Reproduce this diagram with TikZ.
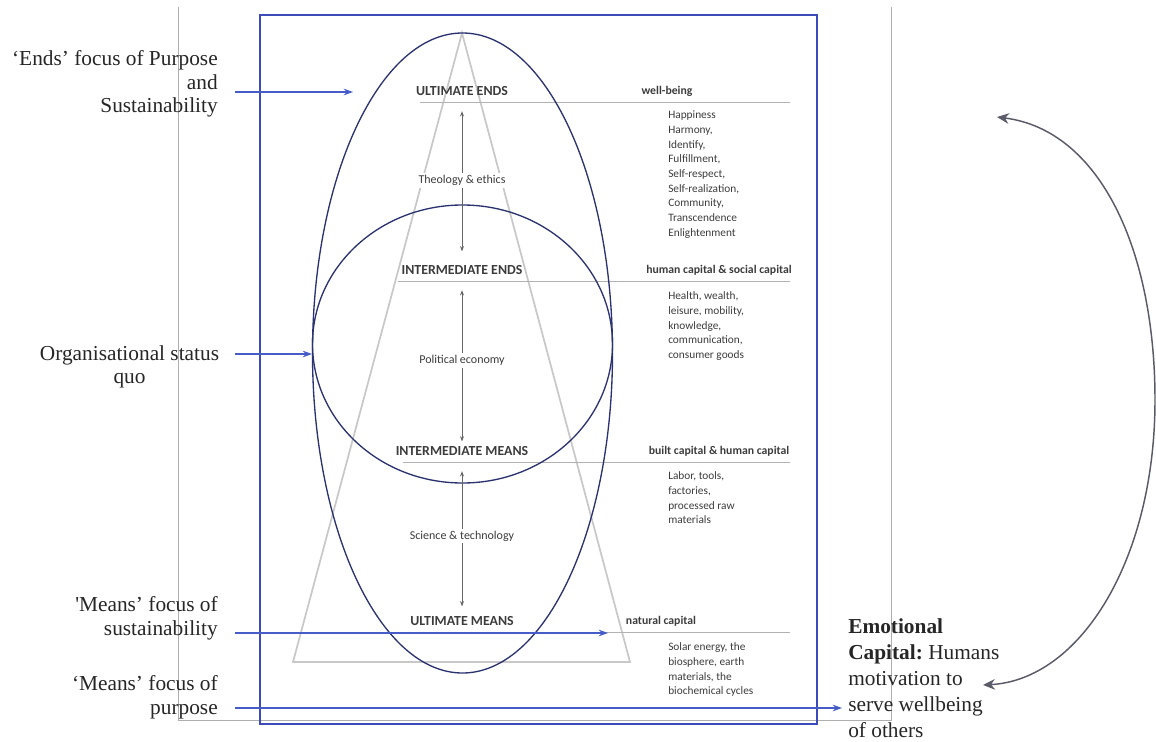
\documentclass[tikz,border=0pt]{standalone}
\usepackage{fontspec}
\setmainfont{Liberation Serif}
\newfontfamily\diagfont{Carlito}
\usetikzlibrary{arrows.meta}
\definecolor{navy}{RGB}{43,50,112}
\definecolor{boxblue}{RGB}{60,75,185}
\definecolor{arrblue}{RGB}{70,92,200}
\definecolor{trigray}{RGB}{200,200,200}
\definecolor{pagegray}{RGB}{175,175,175}
\definecolor{dtext}{RGB}{60,60,60}
\definecolor{curvegray}{RGB}{90,90,105}
\begin{document}
\begin{tikzpicture}[x=0.75pt,y=-0.75pt,
  leftlabel/.style={font=\fontsize{16}{17.6}\selectfont, inner sep=0, text=black!85, align=right, anchor=north east},
  capslabel/.style={font=\diagfont\bfseries\fontsize{10.4}{12}\selectfont, text=dtext, inner sep=0},
  headlabel/.style={font=\diagfont\bfseries\fontsize{8.8}{11}\selectfont, text=dtext, inner sep=0},
  midlabel/.style={font=\diagfont\fontsize{9}{11}\selectfont, text=dtext, fill=white, inner sep=1.5pt},
  listtext/.style={font=\diagfont\fontsize{8.5}{11}\selectfont, text=dtext, inner sep=0, align=left, anchor=north west},
  vert/.style={draw=black!60, line width=0.6pt, {Stealth[length=4pt,width=3pt]}-{Stealth[length=4pt,width=3pt]}, shorten <=11.5pt},
  bluearrow/.style={draw=arrblue, line width=1pt, -{Stealth[length=7pt,width=5pt]}},
  sepline/.style={draw=black!30, line width=0.6pt},
  curvearrow/.style={draw=curvegray, line width=1.1pt, {Stealth[length=9pt,width=8pt]}-{Stealth[length=9pt,width=8pt]}}
]
\useasboundingbox (0,0) rectangle (1156,742);

% page outline and frame
\draw[pagegray, line width=0.6pt] (178,7) -- (178,720) -- (891,720) -- (891,7);
\draw[boxblue, line width=1.1pt] (260,15) rectangle (817,724);

% pyramid
\draw[trigray, line width=1.3pt] (462,33) -- (293,662) -- (630,662) -- cycle;

% separator lines
\draw[sepline] (420,102) -- (790,102);
\draw[sepline] (398,281) -- (790,281);
\draw[sepline] (403,462) -- (790,462);
\draw[sepline] (405,632) -- (790,632);

% ellipses
\draw[navy, line width=1pt] (462.5,353) ellipse [x radius=112.5pt, y radius=240pt];
\draw[navy, line width=1pt] (462.5,344) ellipse [x radius=112.5pt, y radius=104.25pt];

% level labels
\node[capslabel] (ue) at (462,91) {ULTIMATE ENDS};
\node[capslabel] (ie) at (462,270) {INTERMEDIATE ENDS};
\node[capslabel] (im) at (462,451) {INTERMEDIATE MEANS};
\node[capslabel] (um) at (462,621) {ULTIMATE MEANS};

\node[headlabel] (wb) at (667,91) {well-being};
\node[headlabel] (hc) at (719,270) {human capital \& social capital};
\node[headlabel] (bc) at (719,451) {built capital \& human capital};
\node[headlabel] (nc) at (661,621) {natural capital};

\node[listtext] (l1) at (668,110.7) {Happiness\\Harmony,\\Identify,\\Fulfillment,\\Self-respect,\\Self-realization,\\Community,\\Transcendence\\Enlightenment};
\node[listtext] (l2) at (668,291.7) {Health, wealth,\\leisure, mobility,\\knowledge,\\communication,\\consumer goods};
\node[listtext] (l3) at (668,471.7) {Labor, tools,\\factories,\\processed raw\\materials};
\node[listtext] (l4) at (668,642.7) {Solar energy, the\\biosphere, earth\\materials, the\\biochemical cycles};

% vertical arrows
\draw[vert, shorten >=10.3pt] (ue.south) -- (ie.north) node[midlabel, midway] (te) {Theology \& ethics};
\draw[vert, shorten >=3.5pt] (ie.south) -- (im.north) node[midlabel, midway] (pe) {Political economy};
\draw[vert, shorten >=7.3pt] (im.south) -- (um.north) node[midlabel, midway] (st) {Science \& technology};

% left labels
\node[leftlabel] (endsL) at (218,50.4) {‘Ends’ focus of Purpose\\and\\Sustainability};
\node[font=\fontsize{16}{17.3}\selectfont, inner sep=0, text=black!85, align=center, anchor=north] (sqL) at (129.5,345.5) {Organisational status\\quo};
\node[leftlabel] (msL) at (218,596.5) {\textquotesingle Means’ focus of\\sustainability};
\node[leftlabel] (mpL) at (218,675.5) {‘Means’ focus of\\purpose};

% right label
\node[anchor=north west, align=left, font=\fontsize{16}{19.5}\selectfont\frenchspacing, inner sep=0, text=black!85] (emo) at (848,618) {\textbf{Emotional}\\\textbf{Capital:}\ Humans\\motivation to\\serve wellbeing\\of others};

% blue arrows
\coordinate (a1s) at (235,92);  \coordinate (a1e) at (353,92);
\coordinate (a2s) at (235,354); \coordinate (a2e) at (312,354);
\coordinate (a3s) at (235,633); \coordinate (a3e) at (608,633);
\coordinate (a4s) at (235,708); \coordinate (a4e) at (842,708);
\draw[bluearrow] (a1s) -- (a1e);
\draw[bluearrow] (a2s) -- (a2e);
\draw[bluearrow] (a3s) -- (a3e);
\draw[bluearrow] (a4s) -- (a4e);

% curved double arrow
\coordinate (ctop) at (997,117);
\coordinate (cbot) at (983,685);
\draw[curvearrow] (ctop) .. controls (1100,130) and (1155,250) .. (1155,400) .. controls (1155,560) and (1080,680) .. (cbot);
\end{tikzpicture}
\end{document}
